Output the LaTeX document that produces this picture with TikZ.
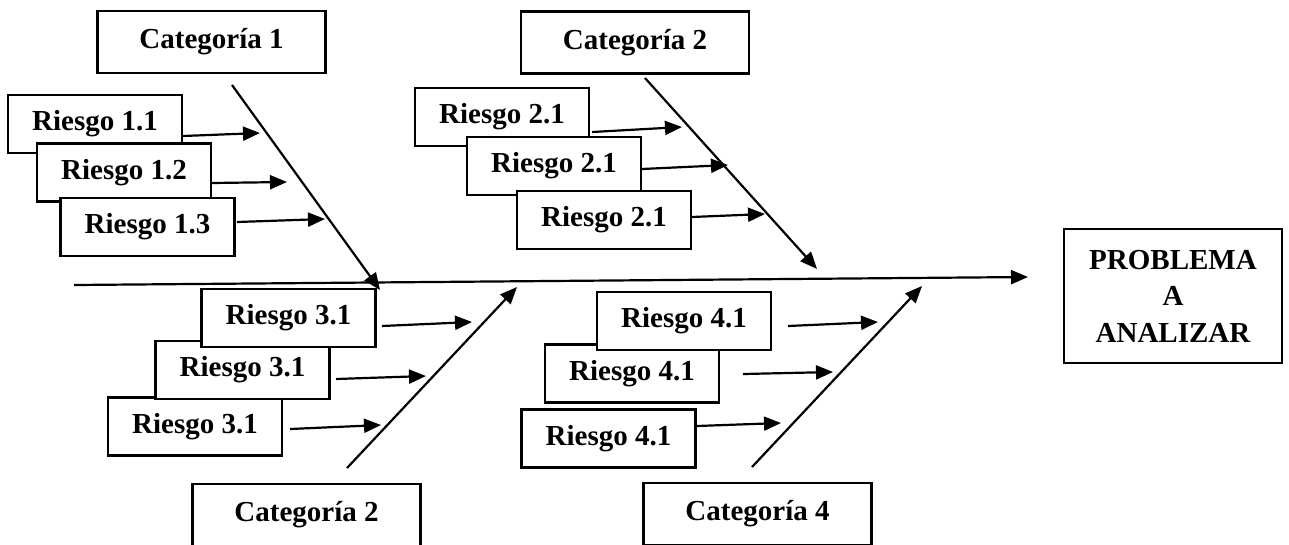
\documentclass[tikz,border=0pt]{standalone}
\usepackage{fontspec}
\setmainfont{Liberation Serif}
\usetikzlibrary{arrows.meta}
\begin{document}
\begin{tikzpicture}[x=1pt,y=-1pt,
  box/.style={draw, line width=2.3pt, fill=white, inner sep=0pt,
    font=\bfseries\fontsize{29}{36.5}\selectfont, align=center},
  riskbox/.style={box, minimum width=174pt, minimum height=58pt},
  catbox/.style={box, minimum width=228pt, minimum height=62pt},
  link/.style={line width=2.2pt, -{Triangle[length=17pt,width=14pt]}}]
\useasboundingbox (0,0) rectangle (1289,544);

% category boxes
\node[catbox] (c1) at (211.5,42) {Categoría 1};
\node[catbox] (c2) at (635,42.5) {Categoría 2};
\node[catbox] (c3) at (306.5,515) {Categoría 2};
\node[catbox] (c4) at (757.5,514) {Categoría 4};

% effect box
\node[box, minimum width=218pt, minimum height=134pt] (prob) at (1173,296)
  {PROBLEMA\\A\\ANALIZAR};

% risks of category 1 (stacked, later ones on top)
\node[riskbox] (r11) at (95,124) {Riesgo 1.1};
\node[riskbox] (r12) at (124,172.5) {Riesgo 1.2};
\node[riskbox] (r13) at (147.5,227) {Riesgo 1.3};

% risks of category 2
\node[riskbox] (r21) at (502,117) {Riesgo 2.1};
\node[riskbox] (r22) at (554,166) {Riesgo 2.1};
\node[riskbox] (r23) at (604,220) {Riesgo 2.1};

% risks of the lower left category
\node[riskbox] (r33) at (195,426.5) {Riesgo 3.1};
\node[riskbox] (r32) at (242.5,370) {Riesgo 3.1};
\node[riskbox] (r31) at (288.5,318) {Riesgo 3.1};

% risks of category 4
\node[riskbox] (r43) at (608.5,438.5) {Riesgo 4.1};
\node[riskbox] (r42) at (632,373.5) {Riesgo 4.1};
\node[riskbox] (r41) at (684,321) {Riesgo 4.1};

% spine and bones
\coordinate (spineA) at (74,285);
\coordinate (spineB) at (1028,277);
\coordinate (b1s) at (232,85);   \coordinate (b1e) at (380,290);
\coordinate (b2s) at (645,78);   \coordinate (b2e) at (817,269);
\coordinate (b3s) at (347,468);  \coordinate (b3e) at (517,287);
\coordinate (b4s) at (752,467);  \coordinate (b4e) at (922,286);

\draw[link] (spineA) -- (spineB);
\draw[link] (b1s) -- (b1e);
\draw[link] (b2s) -- (b2e);
\draw[link] (b3s) -- (b3e);
\draw[link] (b4s) -- (b4e);

% risk arrows
\coordinate (a11s) at (183,136); \coordinate (a11e) at (260,133);
\coordinate (a12s) at (212,183); \coordinate (a12e) at (287,182);
\coordinate (a13s) at (237,222); \coordinate (a13e) at (325,219);
\coordinate (a21s) at (592,132); \coordinate (a21e) at (682,127);
\coordinate (a22s) at (642,169); \coordinate (a22e) at (728,165);
\coordinate (a23s) at (692,217); \coordinate (a23e) at (765,214);
\coordinate (a31s) at (382,326); \coordinate (a31e) at (472,322);
\coordinate (a32s) at (336,379); \coordinate (a32e) at (426,376);
\coordinate (a33s) at (290,429); \coordinate (a33e) at (381,425);
\coordinate (a41s) at (788,326); \coordinate (a41e) at (878,322);
\coordinate (a42s) at (743,374); \coordinate (a42e) at (833,372);
\coordinate (a43s) at (697,426); \coordinate (a43e) at (781,423);

\foreach \a in {11,12,13,21,22,23,31,32,33,41,42,43}
  \draw[link] (a\a s) -- (a\a e);
\end{tikzpicture}
\end{document}
